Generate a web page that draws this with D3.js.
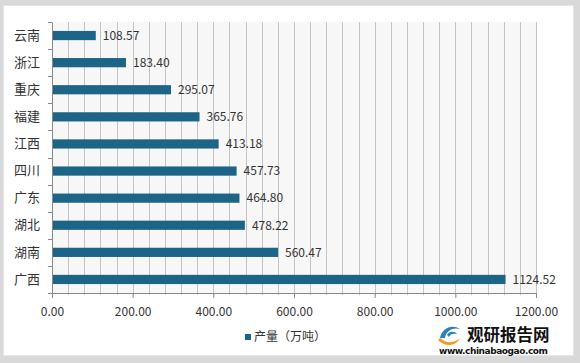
<!DOCTYPE html>
<html><head><meta charset="utf-8">
<script src="https://cdn.jsdelivr.net/npm/d3@7"></script>
<style>body{margin:0;background:#fff}svg{display:block}text{font-family:"Noto Sans CJK SC","Noto Sans",sans-serif}</style>
</head><body><svg id="c" width="580" height="363"></svg>
<script>
const categories = ["云南","浙江","重庆","福建","江西","四川","广东","湖北","湖南","广西"];
const values = [108.57,183.40,295.07,365.76,413.18,457.73,464.80,478.22,560.47,1124.52];
const xTicks = [0,200,400,600,800,1000,1200];
const seriesName = "产量（万吨）";

const svg = d3.select("#c");
// frame
svg.append("rect").attr("width",580).attr("height",363).attr("fill","#d9d9d9");
svg.append("rect").attr("x",3).attr("y",5).attr("width",571).attr("height",351).attr("fill","#e6e6e6");
svg.append("rect").attr("x",4).attr("y",6).attr("width",569).attr("height",349).attr("fill","#fff");

const m = {l:52, r:536, t:22, b:293};
const x = d3.scaleLinear().domain([0,1200]).range([m.l, m.r]);
const y = d3.scaleBand().domain(categories).range([m.t, m.b]).paddingInner(0.66).paddingOuter(0.33);
const yb = d3.scaleBand().domain(categories).range([m.t, m.b]);

svg.append("rect").attr("x",m.l).attr("y",m.t).attr("width",m.r-m.l).attr("height",m.b-m.t).attr("fill","#f7f7f7");
// grid lines every 40
const grid = d3.range(40,1201,40);
svg.append("g").selectAll("line").data(grid).join("line")
  .attr("x1",d=>Math.round(x(d))+0.5).attr("x2",d=>Math.round(x(d))+0.5)
  .attr("y1",m.t).attr("y2",m.b+2).attr("stroke","#c4c4c4").attr("stroke-width",1);

// bars
svg.append("g").selectAll("rect").data(values).join("rect")
  .attr("x",x(0)).attr("y",(d,i)=>y(categories[i])).attr("width",d=>x(d)-x(0)).attr("height",y.bandwidth())
  .attr("fill","#1c6586");

// value labels
svg.append("g").selectAll("text").data(values).join("text")
  .attr("x",d=>x(d)+7).attr("y",(d,i)=>y(categories[i])+y.bandwidth()/2).attr("dy","0.36em")
  .attr("font-size",12).attr("fill","#333").text(d=>d.toFixed(2));

// x axis
const xa = svg.append("g").attr("transform",`translate(0,${m.b})`)
  .call(d3.axisBottom(x).tickValues(xTicks).tickFormat(d=>d.toFixed(2)).tickSize(5).tickPadding(9));
xa.select(".domain").attr("stroke","#888");
xa.selectAll(".tick line").attr("stroke","#888");
xa.selectAll("text").attr("font-size",12).attr("fill","#333").style("font-family",'"Noto Sans CJK SC","Noto Sans",sans-serif');

// y axis
const ya = svg.append("g").attr("transform",`translate(${m.l},0)`)
  .call(d3.axisLeft(yb).tickSize(0).tickPadding(12));
ya.select(".domain").attr("stroke","#888");
ya.selectAll("text").attr("font-size",13).attr("fill","#333").style("font-family",'"Noto Sans CJK SC",sans-serif');
// y band boundary ticks
const bounds = categories.map(c=>yb(c)).concat([m.b]);
svg.append("g").selectAll("line").data(bounds).join("line")
  .attr("x1",m.l-4).attr("x2",m.l).attr("y1",d=>Math.round(d)+0.5).attr("y2",d=>Math.round(d)+0.5)
  .attr("stroke","#888");

// legend
svg.append("rect").attr("x",245).attr("y",334).attr("width",6).attr("height",6).attr("fill","#1c6586");
svg.append("text").attr("x",254).attr("y",337).attr("dy","0.36em").attr("font-size",12).attr("fill","#333").text(seriesName);

// watermark logo
const lg = svg.append("g");
lg.append("path").attr("d","M440,338 C442,328 452,324 460,329 C454,327 446,330 445,338 Z").attr("fill","#2a7fc1");
lg.append("path").attr("d","M438,340 C446,348 456,346 460,338 C455,343 446,344 440,338 Z").attr("fill","#f39a1e");
lg.append("path").attr("d","M447,335 C449,331 455,331 457,334 C453,333 450,334 449,337 Z").attr("fill","#2a7fc1");
lg.append("text").attr("x",467).attr("y",335.5).attr("dy","0.36em").attr("font-size",16.5).attr("font-weight","bold").attr("fill","#111").text("观研报告网");
lg.append("text").attr("x",439).attr("y",350.5).attr("dy","0.36em").attr("font-size",9).attr("font-weight","bold").attr("fill","#111").style("font-family","'DejaVu Sans',sans-serif").attr("textLength",109).text("www.chinabaogao.com");
</script></body></html>
